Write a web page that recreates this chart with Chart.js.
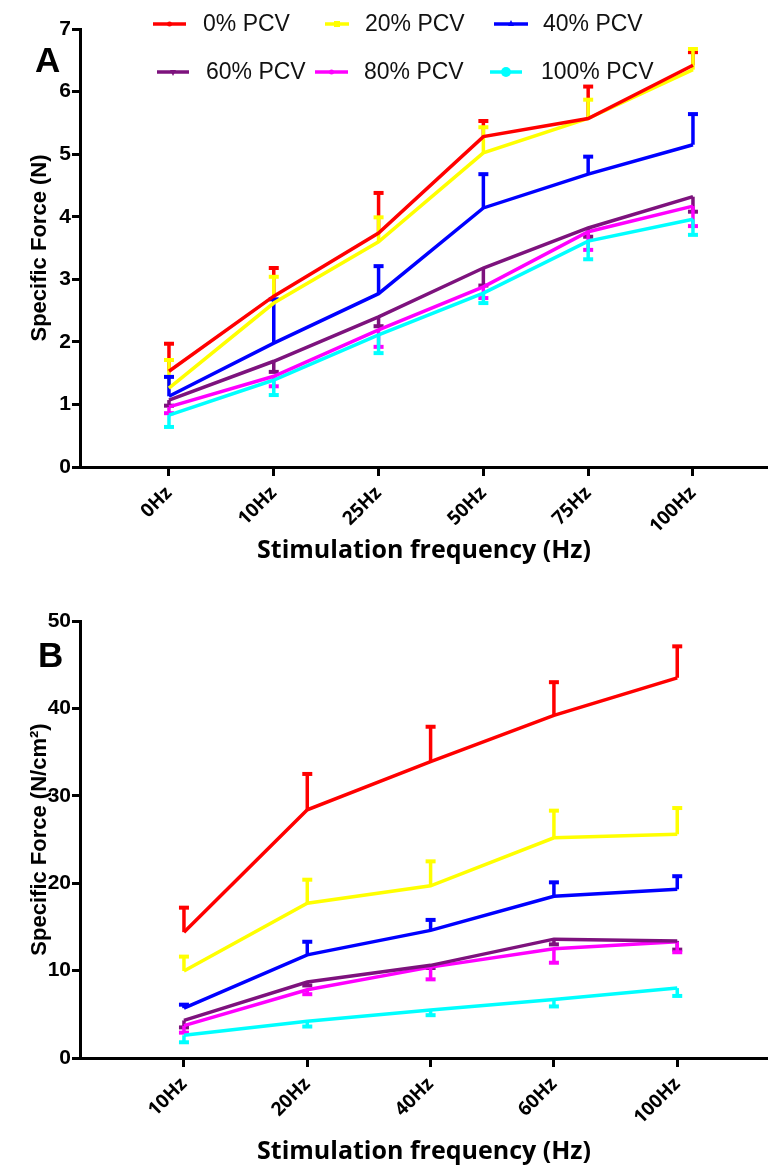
<!DOCTYPE html>
<html>
<head>
<meta charset="utf-8">
<script src="https://cdn.jsdelivr.net/npm/chart.js@4.4.1/dist/chart.umd.min.js"></script>
<style>
  body { margin: 0; background: #fff; }
  #wrap { position: relative; width: 768px; height: 1168px; }
  canvas { position: absolute; left: 0; }
</style>
</head>
<body>
<div id="wrap">
  <canvas id="chartA" width="768" height="584" style="top:0"></canvas>
  <canvas id="chartB" width="768" height="584" style="top:584px"></canvas>
</div>
<script>
// series labels / colours
const seriesNames = ['0% PCV', '20% PCV', '40% PCV', '60% PCV', '80% PCV', '100% PCV'];
const seriesColors = ['#ff0000', '#ffff00', '#0000ff', '#7d127d', '#ff00ff', '#00ffff'];
const errDir = [1, 1, 1, -1, -1, -1]; // error bar drawn up or down

// Panel A - specific force (N)
const freqA = ['0Hz', '10Hz', '25Hz', '50Hz', '75Hz', '100Hz'];
const a0 = [1.53, 2.73, 3.74, 5.28, 5.57, 6.42];
const a0Err = [0.44, 0.45, 0.64, 0.25, 0.51, 0.21];
const a20 = [1.26, 2.62, 3.60, 5.02, 5.57, 6.35];
const a20Err = [0.45, 0.42, 0.39, 0.41, 0.30, 0.33];
const a40 = [1.13, 1.98, 2.77, 4.14, 4.68, 5.15];
const a40Err = [0.31, 0.70, 0.44, 0.54, 0.28, 0.49];
const a60 = [1.07, 1.69, 2.40, 3.18, 3.82, 4.32];
const a60Err = [0.09, 0.17, 0.15, 0.28, 0.14, 0.24];
const a80 = [0.96, 1.45, 2.19, 2.88, 3.76, 4.17];
const a80Err = [0.10, 0.16, 0.27, 0.18, 0.29, 0.32];
const a100 = [0.83, 1.39, 2.11, 2.78, 3.61, 3.96];
const a100Err = [0.19, 0.24, 0.29, 0.16, 0.29, 0.25];

// Panel B - specific force (N/cm2)
const freqB = ['10Hz', '20Hz', '40Hz', '60Hz', '100Hz'];
const b0 = [14.4, 28.4, 33.9, 39.2, 43.5];
const b0Err = [2.8, 4.1, 4.0, 3.8, 3.6];
const b20 = [9.95, 17.7, 19.7, 25.2, 25.6];
const b20Err = [1.65, 2.7, 2.8, 3.1, 3.0];
const b40 = [5.7, 11.8, 14.6, 18.5, 19.3];
const b40Err = [0.4, 1.5, 1.2, 1.6, 1.5];
const b60 = [4.3, 8.7, 10.6, 13.6, 13.4];
const b60Err = [0.8, 0.4, 0.3, 0.6, 1.0];
const b80 = [3.7, 7.8, 10.4, 12.5, 13.3];
const b80Err = [0.8, 0.5, 1.4, 1.6, 1.2];
const b100 = [2.6, 4.2, 5.5, 6.7, 8.0];
const b100Err = [0.8, 0.6, 0.6, 0.8, 0.9];

function makeDatasets(means, errs) {
  return means.map((m, k) => ({
    label: seriesNames[k],
    data: m.map((v, i) => ({ x: i, y: v })),
    err: errs[k],
    dir: errDir[k],
    borderColor: seriesColors[k],
    backgroundColor: seriesColors[k],
    borderWidth: 3.5,
    pointRadius: 0,
    tension: 0,
    fill: false
  }));
}

// one-sided error bars with caps
const errorBars = {
  id: 'errorBars',
  beforeDatasetsDraw(chart) {
    const ctx = chart.ctx;
    const xs = chart.scales.x, ys = chart.scales.y;
    ctx.save();
    chart.data.datasets.forEach(ds => {
      ds.err.forEach((e, i) => {
        const px = xs.getPixelForValue(i);
        const p0 = ys.getPixelForValue(ds.data[i].y);
        const p1 = ys.getPixelForValue(ds.data[i].y + ds.dir * e);
        ctx.strokeStyle = ds.borderColor;
        ctx.lineWidth = 3.5;
        ctx.beginPath();
        ctx.moveTo(px, p0);
        ctx.lineTo(px, p1);
        ctx.stroke();
        ctx.lineWidth = 4;
        ctx.beginPath();
        ctx.moveTo(px - 5, p1);
        ctx.lineTo(px + 5, p1);
        ctx.stroke();
      });
    });
    ctx.restore();
  }
};

// panel letter
const panelLetter = {
  id: 'panelLetter',
  afterDraw(chart, args, opts) {
    const ctx = chart.ctx;
    ctx.save();
    ctx.fillStyle = '#000';
    ctx.font = 'bold 35px "Liberation Sans", Arial, sans-serif';
    ctx.textBaseline = 'alphabetic';
    ctx.fillText(opts.text, opts.x, opts.y);
    ctx.restore();
  }
};

// legend of panel A, two rows
const legendA = {
  id: 'legendA',
  afterDraw(chart) {
    const ctx = chart.ctx;
    const items = [
      { y: 24, x0: 153, x1: 186, tx: 203, m: 'dot' },
      { y: 24, x0: 325, x1: 349, tx: 365, m: 'square' },
      { y: 24, x0: 494, x1: 528, tx: 543, m: 'tri' },
      { y: 72, x0: 157, x1: 189, tx: 206, m: 'triDown' },
      { y: 72, x0: 315, x1: 348, tx: 364, m: 'dot' },
      { y: 72, x0: 490, x1: 522, tx: 541, m: 'circle' }
    ];
    ctx.save();
    items.forEach((it, k) => {
      const c = seriesColors[k];
      ctx.strokeStyle = c;
      ctx.fillStyle = c;
      ctx.lineWidth = 3.5;
      ctx.beginPath();
      ctx.moveTo(it.x0, it.y);
      ctx.lineTo(it.x1, it.y);
      ctx.stroke();
      const mx = (it.x0 + it.x1) / 2;
      ctx.beginPath();
      if (it.m === 'circle') ctx.arc(mx, it.y, 5, 0, Math.PI * 2);
      else if (it.m === 'square') ctx.rect(mx - 3, it.y - 3, 6, 6);
      else if (it.m === 'tri') { ctx.moveTo(mx, it.y - 4); ctx.lineTo(mx + 3, it.y + 2); ctx.lineTo(mx - 3, it.y + 2); }
      else if (it.m === 'triDown') { ctx.moveTo(mx, it.y + 4); ctx.lineTo(mx + 3, it.y - 2); ctx.lineTo(mx - 3, it.y - 2); }
      else ctx.arc(mx, it.y, 2.5, 0, Math.PI * 2);
      ctx.fill();
      ctx.fillStyle = '#111';
      ctx.font = '23px "Liberation Sans", Arial, sans-serif';
      ctx.textBaseline = 'middle';
      ctx.fillText(seriesNames[k], it.tx, it.y + 1);
    });
    ctx.restore();
  }
};

function makeChart(id, cats, means, errs, yMax, yStep, yTitle, xMin, xMax, xHeight, topPad, titlePadB, letter, extraPlugins) {
  const axisFont = { family: '"Liberation Sans", Arial, sans-serif', weight: 'bold', size: 21 };
  return new Chart(document.getElementById(id).getContext('2d'), {
    type: 'line',
    data: { datasets: makeDatasets(means, errs) },
    options: {
      responsive: false,
      animation: false,
      layout: { padding: { top: topPad, right: 0, left: 0, bottom: 0 } },
      plugins: {
        legend: { display: false },
        tooltip: { enabled: false },
        panelLetter: letter
      },
      scales: {
        x: {
          type: 'linear',
          min: xMin,
          max: xMax,
          afterBuildTicks: s => { s.ticks = cats.map((c, i) => ({ value: i })); },
          afterFit: s => { s.height = xHeight; },
          ticks: {
            callback: v => cats[Math.round(v)],
            autoSkip: false,
            minRotation: 45,
            maxRotation: 45,
            color: '#000',
            padding: 6,
            font: { family: '"Open Sans", sans-serif', weight: 'bold', size: 19 }
          },
          grid: { drawOnChartArea: false, color: '#000', lineWidth: 3, tickLength: 9 },
          border: { color: '#000', width: 3 },
          title: {
            display: true,
            text: 'Stimulation frequency (Hz)',
            color: '#000',
            padding: { top: 0, bottom: titlePadB },
            font: { family: '"Open Sans", sans-serif', weight: 'bold', size: 25 }
          }
        },
        y: {
          min: 0,
          max: yMax,
          afterFit: s => { s.width = 80; },
          ticks: { stepSize: yStep, color: '#000', padding: 1, font: axisFont },
          grid: { drawOnChartArea: false, color: '#000', lineWidth: 3, tickLength: 8 },
          border: { color: '#000', width: 3 },
          title: {
            display: true,
            text: yTitle,
            color: '#000',
            padding: { top: 27, bottom: 0 },
            font: { family: '"Liberation Sans", Arial, sans-serif', weight: 'bold', size: 22 }
          }
        }
      }
    },
    plugins: [errorBars, panelLetter].concat(extraPlugins)
  });
}

makeChart('chartA', freqA,
  [a0, a20, a40, a60, a80, a100],
  [a0Err, a20Err, a40Err, a60Err, a80Err, a100Err],
  7, 1, 'Specific Force (N)',
  -0.849, 5.716, 117, 29, 18,
  { text: 'A', x: 35, y: 72 }, [legendA]);

makeChart('chartB', freqB,
  [b0, b20, b40, b60, b80, b100],
  [b0Err, b20Err, b40Err, b60Err, b80Err, b100Err],
  50, 10, 'Specific Force (N/cm\u00B2)',
  -0.843, 4.736, 110, 37, 1,
  { text: 'B', x: 38, y: 83 }, []);
</script>
</body>
</html>
